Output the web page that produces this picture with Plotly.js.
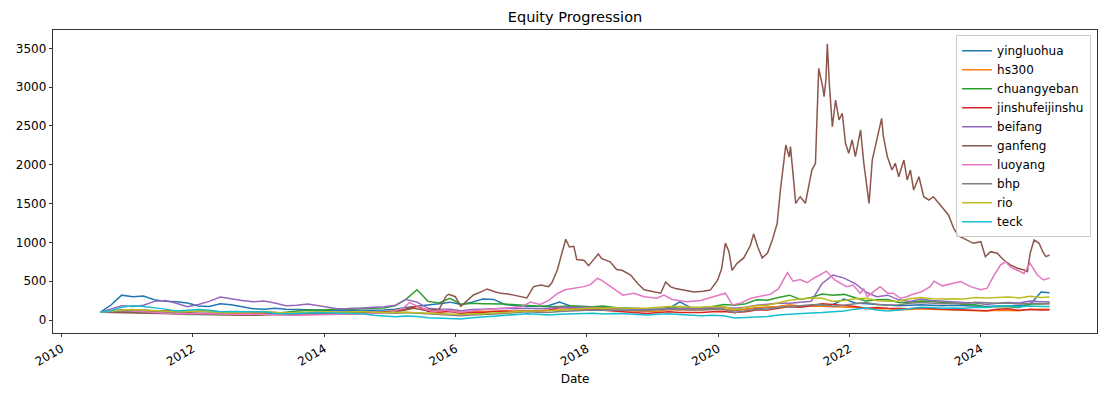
<!DOCTYPE html>
<html>
<head>
<meta charset="utf-8">
<script src="https://cdn.plot.ly/plotly-3.0.1.min.js"></script>
<style>html,body{margin:0;padding:0;background:#fff}#chart{width:1109px;height:394px}</style>
</head>
<body>
<div id="chart"></div>
<script>
// shared bimonthly date grid for most series
const dates = ['2010-08-05','2010-10-01','2010-12-01',
'2011-02-01','2011-04-01','2011-06-01','2011-08-01','2011-10-01','2011-12-01',
'2012-02-01','2012-04-01','2012-06-01','2012-08-01','2012-10-01','2012-12-01',
'2013-02-01','2013-04-01','2013-06-01','2013-08-01','2013-10-01','2013-12-01',
'2014-02-01','2014-04-01','2014-06-01','2014-08-01','2014-10-01','2014-12-01',
'2015-02-01','2015-04-01','2015-06-01','2015-08-01','2015-10-01','2015-12-01',
'2016-02-01','2016-04-01','2016-06-01','2016-08-01','2016-10-01','2016-12-01',
'2017-02-01','2017-04-01','2017-06-01','2017-08-01','2017-10-01','2017-12-01',
'2018-02-01','2018-04-01','2018-06-01','2018-08-01','2018-10-01','2018-12-01',
'2019-02-01','2019-04-01','2019-06-01','2019-08-01','2019-10-01','2019-12-01',
'2020-02-01','2020-04-01','2020-06-01','2020-08-01','2020-10-01','2020-12-01',
'2021-02-01','2021-04-01','2021-06-01','2021-08-01','2021-10-01','2021-12-01',
'2022-02-01','2022-04-01','2022-06-01','2022-08-01','2022-10-01','2022-12-01',
'2023-02-01','2023-04-01','2023-06-01','2023-08-01','2023-10-01','2023-12-01',
'2024-02-01','2024-04-01','2024-06-01','2024-08-01','2024-10-01','2024-12-01',
'2025-01-17'];

const yingluohua = [100,190,320,300,310,260,240,235,220,180,175,210,195,170,145,140,150,140,135,135,128,125,128,125,130,125,130,140,160,175,190,210,230,200,230,270,265,200,185,180,175,185,230,180,175,170,165,160,150,145,140,140,145,235,160,150,145,140,120,140,150,155,165,175,170,175,185,200,270,220,210,200,190,185,190,195,190,185,190,185,180,175,180,185,185,200,360,350];
const hs300 = [100,103,105,103,103,98,90,88,80,82,87,82,78,78,80,88,85,78,80,82,80,76,76,75,80,85,105,120,140,175,130,118,125,102,108,106,112,112,112,117,120,125,130,135,140,143,135,130,120,112,108,115,135,128,130,133,140,140,130,138,160,165,175,195,180,180,175,170,172,160,145,145,145,130,135,145,140,135,135,128,120,115,125,125,120,140,135,138];
const chuangyeban = [100,110,115,100,100,95,90,80,72,75,75,72,68,65,60,72,85,100,115,130,125,140,145,140,150,150,155,185,270,390,240,220,280,200,215,210,210,205,195,185,180,170,175,180,175,170,180,160,150,125,130,135,165,150,155,160,175,200,190,210,260,255,290,320,265,290,335,320,330,290,245,260,265,225,230,245,240,225,220,200,195,165,175,170,160,210,205,215];
const jinshufeijinshu = [100,115,130,120,125,115,120,115,100,110,115,105,95,95,100,100,85,80,85,90,88,82,80,85,100,95,100,110,140,180,110,100,110,85,95,95,110,115,110,120,115,125,160,155,150,140,125,115,100,90,85,95,105,95,95,95,105,110,95,105,130,130,150,175,165,185,210,200,185,175,150,160,150,145,145,155,145,140,135,128,125,120,140,145,125,135,130,128];
const beifang = [100,140,185,175,190,240,250,215,170,200,240,295,270,250,235,245,220,185,190,205,185,160,140,150,150,165,170,190,265,230,150,140,140,120,135,140,145,150,145,150,145,150,165,160,160,165,160,150,140,135,130,140,150,145,150,150,160,165,150,165,190,200,215,215,225,240,470,580,540,470,360,300,320,260,240,270,250,240,235,225,220,200,215,225,220,245,235,235];
const bhp = [100,110,120,125,125,120,110,100,105,110,105,95,100,105,105,105,95,90,95,100,100,100,105,108,110,100,92,88,95,88,75,70,65,55,65,70,80,85,95,105,100,98,110,115,125,130,125,130,125,125,120,135,140,140,130,130,140,135,95,120,135,140,165,180,185,195,200,175,190,210,225,200,190,195,215,225,215,210,215,210,230,220,215,220,205,215,205,205];
const rio = [100,115,130,135,130,125,115,105,110,115,110,95,95,100,105,110,95,90,95,100,105,105,100,105,110,100,95,95,100,95,85,80,75,70,80,80,90,95,105,115,115,120,130,140,150,155,150,160,150,150,150,165,175,175,165,165,175,170,135,160,185,190,225,255,270,285,280,240,250,275,280,250,240,245,275,290,275,270,275,270,290,285,290,295,285,305,290,295];
const teck = [100,120,165,185,175,160,140,115,125,135,125,105,110,110,110,105,85,80,85,90,95,90,85,82,80,62,50,42,50,45,30,25,15,12,30,40,50,65,75,80,75,65,75,78,85,88,78,85,80,75,65,75,80,70,60,55,60,55,25,35,40,45,65,75,85,90,95,105,115,140,155,130,115,130,150,165,160,150,155,150,165,160,180,185,170,180,175,175];

// ganfeng: its own dates (denser)
const ganfengDates = ['2010-08-05','2010-11-01','2011-03-01','2011-07-01','2011-11-01','2012-03-01','2012-07-01','2012-11-01','2013-03-01','2013-07-01','2013-11-01','2014-03-01','2014-07-01','2014-11-01','2015-03-01','2015-05-15','2015-07-15','2015-10-01','2015-11-10','2015-11-25','2015-12-31',
'2016-01-30','2016-02-20','2016-04-10','2016-05-25','2016-06-25','2016-08-10','2016-09-10','2016-11-01','2016-12-10','2017-02-01','2017-03-10','2017-04-20','2017-06-01','2017-06-20','2017-07-20','2017-08-15','2017-09-05','2017-09-25','2017-10-20','2017-11-05','2017-12-15',
'2018-01-10','2018-02-05','2018-03-05','2018-03-25','2018-05-10','2018-06-15','2018-07-15','2018-09-01','2018-10-10','2018-11-15','2019-01-07','2019-02-15','2019-03-15','2019-04-10','2019-05-08','2019-06-25','2019-08-20','2019-10-10','2019-11-18','2019-12-28',
'2020-01-20','2020-02-10','2020-03-01','2020-03-18','2020-04-15','2020-05-22','2020-06-28','2020-07-16','2020-08-08','2020-09-02','2020-10-01','2020-10-28','2020-11-24','2020-12-12','2020-12-23',
'2021-01-11','2021-01-30','2021-02-06','2021-02-25','2021-03-07','2021-04-01','2021-04-30','2021-05-18','2021-06-05','2021-06-25','2021-07-05','2021-07-13','2021-08-04','2021-08-12','2021-08-22','2021-08-30','2021-09-10','2021-09-27','2021-10-15','2021-11-03','2021-11-21','2021-12-09','2021-12-27',
'2022-01-15','2022-02-02','2022-03-03','2022-03-21','2022-04-19','2022-05-07','2022-06-02','2022-06-28','2022-07-08','2022-07-30','2022-08-25','2022-09-12','2022-10-01','2022-10-30','2022-11-17','2022-12-05','2022-12-23',
'2023-01-22','2023-02-17','2023-03-18','2023-04-12','2023-05-11','2023-06-09','2023-07-05','2023-08-03','2023-08-21','2023-09-08','2023-10-15','2023-11-20',
'2024-01-01','2024-01-26','2024-02-24','2024-04-01','2024-05-07','2024-06-13','2024-07-23','2024-08-28','2024-09-16','2024-10-01','2024-10-23','2024-11-20','2024-12-10','2024-12-28','2025-01-17'];
const ganfeng = [100,95,90,85,78,75,70,62,68,72,80,85,90,100,115,150,125,135,310,330,300,
175,220,322,365,400,360,343,330,315,285,430,450,430,480,644,860,1040,940,950,780,770,
700,770,850,790,750,650,640,580,470,390,365,345,490,430,405,385,360,370,385,510,
660,990,880,640,730,800,960,1110,940,800,860,1030,1245,1675,1890,
2254,2100,2233,1761,1503,1589,1503,1718,1932,2019,2748,3242,3006,2877,3092,3558,3049,2490,2834,2577,2663,2276,2147,
2319,2104,2448,2019,1503,2061,2319,2598,2361,2104,1932,2019,1846,2061,1804,1932,1675,
1846,1589,1546,1589,1503,1417,1353,1180,1117,1073,1031,988,
1009,816,880,860,773,709,666,644,622,859,1031,988,880,816,837];

// luoyang: its own dates
const luoyangDates = ['2010-08-05','2010-10-15','2011-01-01','2011-04-01','2011-07-01','2011-10-01','2012-01-01','2012-04-01','2012-07-01','2012-10-01','2013-01-01','2013-04-01','2013-07-01','2013-10-01','2014-01-01','2014-04-01','2014-07-01','2014-10-01',
'2015-01-01','2015-03-15','2015-04-20','2015-05-20','2015-07-10','2015-09-01','2015-11-01','2016-01-15','2016-04-01','2016-07-01','2016-10-01','2017-01-01','2017-02-20','2017-04-15','2017-06-01','2017-07-20','2017-09-01','2017-10-20','2017-12-15',
'2018-01-20','2018-02-28','2018-03-25','2018-04-20','2018-06-10','2018-07-20','2018-09-20','2018-11-15','2019-01-25','2019-03-05','2019-04-20','2019-07-10','2019-09-25','2019-12-05',
'2020-01-20','2020-02-10','2020-03-20','2020-05-01','2020-07-01','2020-08-15','2020-10-15','2020-12-01','2020-12-28',
'2021-01-20','2021-02-20','2021-04-01','2021-05-10','2021-06-15','2021-07-20','2021-08-25','2021-10-10','2021-12-15',
'2022-01-20','2022-03-01','2022-03-20','2022-04-10','2022-05-15','2022-06-20','2022-08-01','2022-09-01','2022-10-10','2022-11-15','2022-12-10',
'2023-02-01','2023-03-25','2023-04-15','2023-06-01','2023-08-01','2023-09-10','2023-11-05','2023-12-31',
'2024-02-05','2024-03-10','2024-04-20','2024-05-18','2024-06-15','2024-07-20','2024-08-28','2024-10-01','2024-11-10','2024-12-15','2025-01-17'];
const luoyang = [100,115,120,110,95,80,80,85,75,70,75,65,60,65,70,68,80,85,
100,150,225,190,140,110,130,100,120,140,150,170,230,200,250,340,390,410,430,
455,535,510,470,390,320,345,300,280,320,265,235,250,300,
325,345,195,215,280,300,330,400,515,
610,500,520,480,540,580,630,515,430,
450,345,400,300,365,430,345,345,280,300,325,
360,430,500,440,470,495,430,390,
410,560,710,750,680,640,600,730,580,515,540];

const names = ['yingluohua','hs300','chuangyeban','jinshufeijinshu','beifang','ganfeng','luoyang','bhp','rio','teck'];
const colors = ['#1f77b4','#ff7f0e','#2ca02c','#d62728','#9467bd','#8c564b','#e377c2','#7f7f7f','#bcbd22','#17becf'];
const xs = [dates,dates,dates,dates,dates,ganfengDates,luoyangDates,dates,dates,dates];
const ys = [yingluohua,hs300,chuangyeban,jinshufeijinshu,beifang,ganfeng,luoyang,bhp,rio,teck];

const traces = names.map((n,i)=>({
  type:'scatter', mode:'lines', name:n, x:xs[i], y:ys[i],
  line:{color:colors[i], width:1.5}
}));

const F = 'DejaVu Sans, sans-serif';
const layout = {
  width:1109, height:394,
  margin:{l:53, r:12, t:30, b:61},
  paper_bgcolor:'#fff', plot_bgcolor:'#fff',
  font:{family:F, size:12, color:'#000'},
  title:{text:'Equity Progression', font:{family:F, size:14.5, color:'#000'}, x:0.5, xref:'paper', y:1-17/394, yref:'container', yanchor:'middle'},
  showlegend:true,
  legend:{x:0.865, y:0.983, xanchor:'left', yanchor:'top', bgcolor:'rgba(255,255,255,0.8)', bordercolor:'#cccccc', borderwidth:1, font:{family:F, size:12, color:'#000'}, tracegroupgap:0},
  xaxis:{
    type:'date', range:['2009-11-14','2025-10-08'],
    tick0:'2010-01-01', dtick:'M24', tickformat:'%Y', tickangle:-30,
    showgrid:false, zeroline:false, showline:true, mirror:true, linecolor:'#000', linewidth:0.8,
    ticks:'outside', ticklen:3.5, tickwidth:0.8, tickcolor:'#000',
    tickfont:{family:F, size:12, color:'#000'},
    title:{text:'Date', font:{family:F, size:12, color:'#000'}, standoff:6}
  },
  yaxis:{
    range:[-167.5,3736], tick0:0, dtick:500,
    showgrid:false, zeroline:false, showline:true, mirror:true, linecolor:'#000', linewidth:0.8,
    ticks:'outside', ticklen:3.5, tickwidth:0.8, tickcolor:'#000',
    tickfont:{family:F, size:12, color:'#000'}
  }
};
Plotly.newPlot('chart', traces, layout, {displayModeBar:false, staticPlot:true});
</script>
</body>
</html>
